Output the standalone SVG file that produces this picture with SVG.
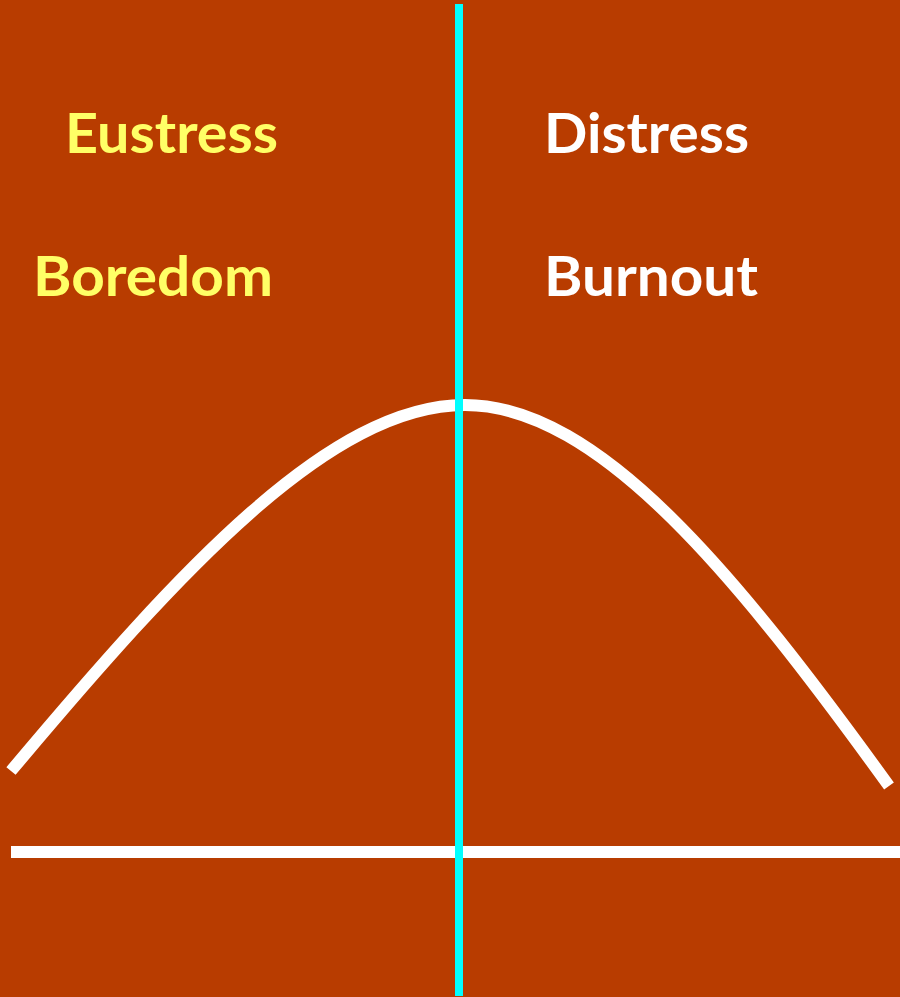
<svg xmlns="http://www.w3.org/2000/svg" width="900" height="997" viewBox="0 0 900 997">
<style>
.lbl{font-family:Lato,"Open Sans","Liberation Sans",sans-serif;font-weight:bold;font-size:56px}
.y{fill:#FFFF66}
.w{fill:#FFFFFF}
</style>
<rect width="900" height="997" fill="#B83C00"/>
<g id="connectors">
<path id="curve" d="M11,771 C180,570 330,405 465,405 C600,405 740,580 889,786" fill="none" stroke="#FFFFFF" stroke-width="12"/>
<line id="axis" x1="11" y1="852" x2="900" y2="852" stroke="#FFFFFF" stroke-width="12"/>
<line id="divider" x1="459" y1="4" x2="459" y2="996" stroke="#00FFFF" stroke-width="8"/>
</g>
<g id="eustress"><text class="lbl y" x="65" y="153" textLength="213" lengthAdjust="spacingAndGlyphs">Eustress</text></g>
<g id="boredom"><text class="lbl y" x="33" y="296" textLength="240" lengthAdjust="spacingAndGlyphs">Boredom</text></g>
<g id="distress"><text class="lbl w" x="544" y="153" textLength="205" lengthAdjust="spacingAndGlyphs">Distress</text></g>
<g id="burnout"><text class="lbl w" x="544" y="296" textLength="214" lengthAdjust="spacingAndGlyphs">Burnout</text></g>
</svg>
